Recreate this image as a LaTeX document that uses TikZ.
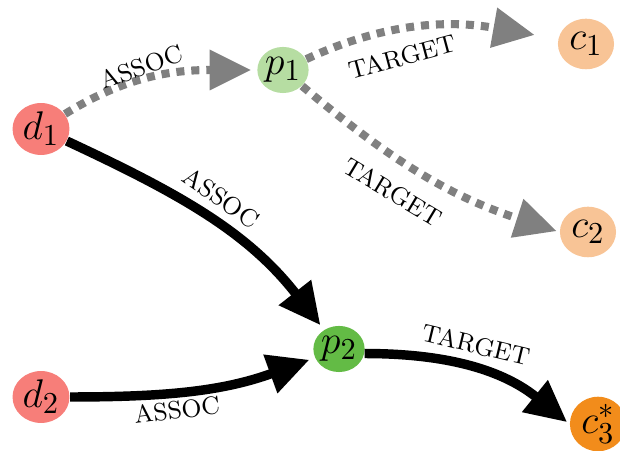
\documentclass[tikz,border=0pt]{standalone}
\usetikzlibrary{arrows.meta,shapes.geometric}
\definecolor{dcol}{HTML}{F77E79}
\definecolor{plight}{HTML}{B6DDA2}
\definecolor{pdark}{HTML}{63BB45}
\definecolor{clight}{HTML}{F8C496}
\definecolor{cdark}{HTML}{F28C1B}
\definecolor{linkgray}{HTML}{808080}
\begin{document}
\begin{tikzpicture}[x=0.36pt,y=0.36pt,
  vtx/.style={ellipse,inner sep=0pt,font=\fontsize{15.5}{17}\selectfont},
  dnode/.style={vtx,fill=dcol,minimum width=20.5pt,minimum height=18.7pt},
  pnode/.style={vtx,minimum width=18pt,minimum height=16.6pt},
  cnode/.style={vtx,minimum width=20.2pt,minimum height=18.2pt},
  lbl/.style={font=\fontsize{9}{11}\selectfont,inner sep=0pt},
  tip/.style={-{Triangle[length=15pt,width=13.9pt]}},
  solidlink/.style={tip,draw=black,line width=3.4pt},
  graylink/.style={tip,draw=linkgray,line width=2.9pt,dash pattern=on 2.9pt off 2.5pt}]
\useasboundingbox (0,0) rectangle (620,-451);
% nodes
\node[dnode] (d1) at (41,-129) {$d_1$};
\node[dnode] (d2) at (41,-397) {$d_2$};
\node[pnode,fill=plight] (p1) at (283,-70) {$p_1$};
\node[pnode,fill=pdark] (p2) at (339,-349) {$p_2$};
\node[cnode,fill=clight] (c1) at (586,-44) {$c_1$};
\node[cnode,fill=clight] (c2) at (588,-232) {$c_2$};
\node[cnode,fill=cdark,minimum height=18.7pt] (c3) at (598,-424) {$c_3^*$};
% connectors
\draw[graylink,shorten >=2pt] (d1) to[out=32,in=180] (p1);
\draw[graylink,shorten >=8.5pt] (p1) to[out=25,in=170] (c1);
\draw[graylink,shorten >=1pt] (p1) to[out=-40,in=162] (c2.west);
\draw[solidlink,shorten >=2pt] (d1) to[out=-25,in=128] (p2);
\draw[solidlink,shorten >=2pt] (d2) to[out=0,in=200] (p2);
\draw[solidlink,shorten >=1pt] (p2.-10) to[out=0,in=141] (c3.west);
% labels
\node[lbl,rotate=19.5] (l1) at (141,-67) {ASSOC};
\node[lbl,rotate=15] (l2) at (402,-57) {TARGET};
\node[lbl,rotate=-31] (l3) at (393,-192) {TARGET};
\node[lbl,rotate=-34.4] (l4) at (221,-198) {ASSOC};
\node[lbl,rotate=7] (l5) at (177,-410) {ASSOC};
\node[lbl,rotate=-13.6] (l6) at (476,-345) {TARGET};
\end{tikzpicture}
\end{document}
